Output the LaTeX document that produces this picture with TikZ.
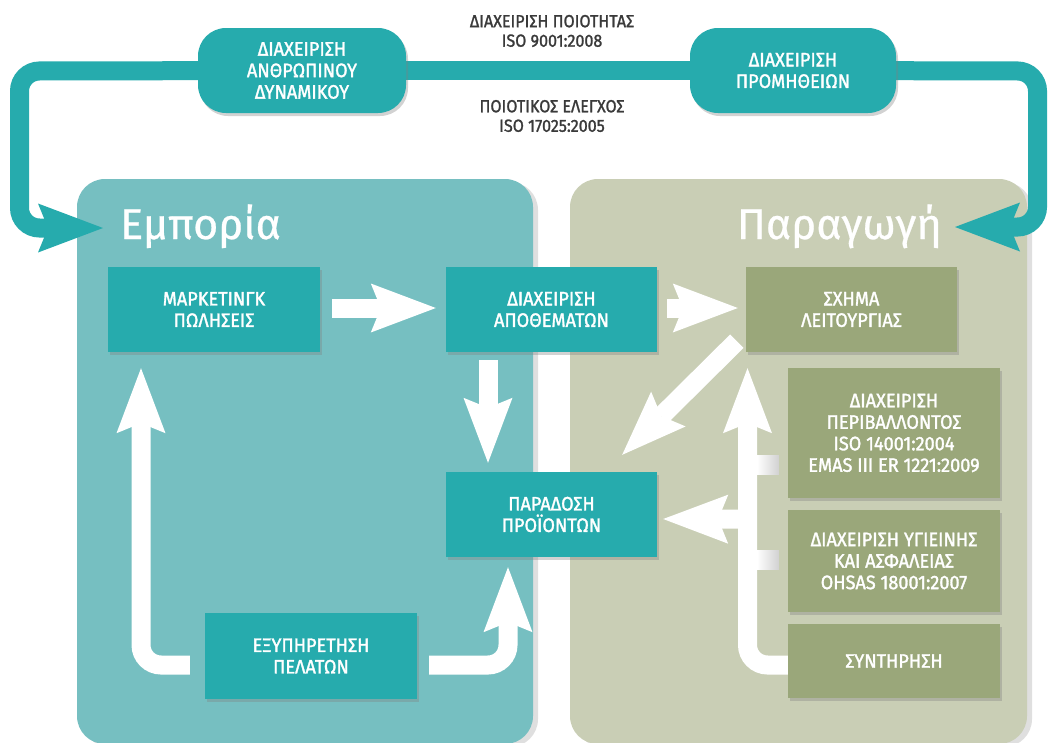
\documentclass[tikz,border=0pt]{standalone}
\usepackage{fontspec}
\setmainfont{Fira Sans}
\newfontfamily\boxfont{Fira Sans}[FakeStretch=0.93, FakeBold=1.6]
\newfontfamily\notefont{Fira Sans}[FakeStretch=0.92, FakeBold=1.4]
\newfontfamily\headfont{Fira Sans}[FakeBold=0.6]
\usetikzlibrary{arrows.meta,shadows,calc}
\definecolor{tealbox}{HTML}{26ABAD}
\definecolor{tealpanel}{HTML}{76BFC1}
\definecolor{olivepanel}{HTML}{C9CEB5}
\definecolor{olivebox}{HTML}{9AA77A}
\definecolor{darktext}{HTML}{3A3A3A}
\pgfdeclarelayer{panels}
\pgfdeclarelayer{arrowlayer}
\pgfsetlayers{panels,arrowlayer,main}
\tikzset{
 boxbase/.style={rectangle, text=white, align=center, inner sep=0pt,
   font=\boxfont\fontsize{19.5}{21.5}\selectfont,
   drop shadow={opacity=0.35, shadow xshift=2pt, shadow yshift=-3pt}},
 tealnode/.style={boxbase, fill=tealbox},
 olivenode/.style={boxbase, fill=olivebox},
 topnode/.style={boxbase, fill=tealbox, rounded corners=28pt},
 panel/.style={rounded corners=28pt, drop shadow={opacity=0.25, shadow xshift=5pt, shadow yshift=-3pt}},
 tealline/.style={draw=tealbox, line width=19pt},
 looparrow/.style={draw=tealbox, line width=19pt, rounded corners=20pt,
   -{Stealth[length=65pt, width=49pt, inset=10pt, line width=0pt]}},
 blockarrow/.style={draw=white, line width=19pt, rounded corners=20pt,
   -{Stealth[length=65pt, width=49pt, inset=10pt, line width=0pt]}},
 heading/.style={text=white, font=\headfont\fontsize{43}{48}\selectfont, inner sep=0pt},
 note/.style={text=darktext, align=center, font=\notefont\fontsize{17.5}{19.5}\selectfont, inner sep=0pt}
}
\begin{document}
\begin{tikzpicture}[x=1pt, y=-1pt]
\useasboundingbox (0,0) rectangle (1054,742);
\begin{pgfonlayer}{panels}
\fill[white] (0,0) rectangle (1054,742);
\fill[tealpanel, panel] (77,179) rectangle (533,744);
\fill[olivepanel, panel] (570,179) rectangle (1027,744);
\end{pgfonlayer}

% headings
\node[heading, anchor=base west] (emp) at (120,239) {Εμπορία};
\node[heading, anchor=base east] (parag) at (942,239) {Παραγωγή};

% top boxes and notes
\node[topnode, minimum width=208pt, minimum height=85pt] (hr) at (302,70.5) {ΔΙΑΧΕΙΡΙΣΗ\\ΑΝΘΡΩΠΙΝΟΥ\\ΔΥΝΑΜΙΚΟΥ};
\node[topnode, minimum width=206pt, minimum height=85pt] (prom) at (793,70.5) {ΔΙΑΧΕΙΡΙΣΗ\\ΠΡΟΜΗΘΕΙΩΝ};
\node[note] (q1) at (552,31) {ΔΙΑΧΕΙΡΙΣΗ ΠΟΙΟΤΗΤΑΣ\\ISO 9001:2008};
\node[note] (q2) at (552,116) {ΠΟΙΟΤΙΚΟΣ ΕΛΕΓΧΟΣ\\ISO 17025:2005};

% left panel boxes
\node[tealnode, minimum width=212pt, minimum height=85pt] (mkt) at (214,309.5) {ΜΑΡΚΕΤΙΝΓΚ\\ΠΩΛΗΣΕΙΣ};
\node[tealnode, minimum width=211pt, minimum height=85pt] (apo) at (551.5,309.5) {ΔΙΑΧΕΙΡΙΣΗ\\ΑΠΟΘΕΜΑΤΩΝ};
\node[tealnode, minimum width=211pt, minimum height=85pt] (par) at (551.5,514.5) {ΠΑΡΑΔΟΣΗ\\ΠΡΟΪΟΝΤΩΝ};
\node[tealnode, minimum width=212pt, minimum height=86pt] (exy) at (311,656) {ΕΞΥΠΗΡΕΤΗΣΗ\\ΠΕΛΑΤΩΝ};

% right panel boxes
\node[olivenode, minimum width=211pt, minimum height=85pt] (sxh) at (851.5,309.5) {ΣΧΗΜΑ\\ΛΕΙΤΟΥΡΓΙΑΣ};
\node[olivenode, minimum width=212pt, minimum height=130pt] (env) at (894,433) {ΔΙΑΧΕΙΡΙΣΗ\\ΠΕΡΙΒΑΛΛΟΝΤΟΣ\\ISO 14001:2004\\EMAS III ER 1221:2009};
\node[olivenode, minimum width=212pt, minimum height=102pt] (hyg) at (894,561) {ΔΙΑΧΕΙΡΙΣΗ ΥΓΙΕΙΝΗΣ\\ΚΑΙ ΑΣΦΑΛΕΙΑΣ\\OHSAS 18001:2007};
\node[olivenode, minimum width=212pt, minimum height=74pt] (syn) at (894,661) {ΣΥΝΤΗΡΗΣΗ};

% coordinates for loop corners
\coordinate (cL1) at (19.5,71);
\coordinate (cL2) at (19.5,228);
\coordinate (tipL) at (103,228);
\coordinate (cR1) at (1037.5,71);
\coordinate (cR2) at (1037.5,227);
\coordinate (tipR) at (955,227);
\coordinate (junc) at ($(sxh.south)+(-104,167)$);

\begin{pgfonlayer}{arrowlayer}
% teal loop
\draw[tealline] (hr.center) -- (prom.center);
\draw[looparrow] (hr.center) -- (cL1) -- (cL2) -- (tipL);
\draw[looparrow] (prom.center) -- (cR1) -- (cR2) -- (tipR);
% white block arrows
\draw[blockarrow] ($(mkt.east)+(12,-1.5)$) -- ($(apo.west)+(-10,-1.5)$);
\draw[blockarrow] ($(apo.east)+(10,-1.5)$) -- ($(sxh.west)+(-8,-1.5)$);
\draw[blockarrow] ($(apo.south)+(-63.5,8)$) -- ($(par.north)+(-63.5,-9)$);
\draw[blockarrow] ($(exy.west)+(-15,9)$) -| ($(mkt.south)+(-73,16)$);
\draw[blockarrow] ($(exy.east)+(12,9)$) -| ($(par.south)+(-43.5,10)$);
\draw[blockarrow] ($(sxh.south west)+(-9,-11)$) -- ($(par.north east)+(-35,-17)$);
\draw[blockarrow] ($(syn.west)+(5,4)$) -| ($(sxh.south)+(-104,16)$);
\draw[blockarrow] (junc) -- ($(par.east)+(6,4.5)$);
% stubs from boxes to the vertical shaft
\shade[left color=white, right color=black!18] ($(env.west)+(-31,22)$) rectangle ($(env.west)+(-9,41)$);
\shade[left color=white, right color=black!18] ($(hyg.west)+(-31,-11)$) rectangle ($(hyg.west)+(-9,8)$);
\end{pgfonlayer}
\end{tikzpicture}
\end{document}
